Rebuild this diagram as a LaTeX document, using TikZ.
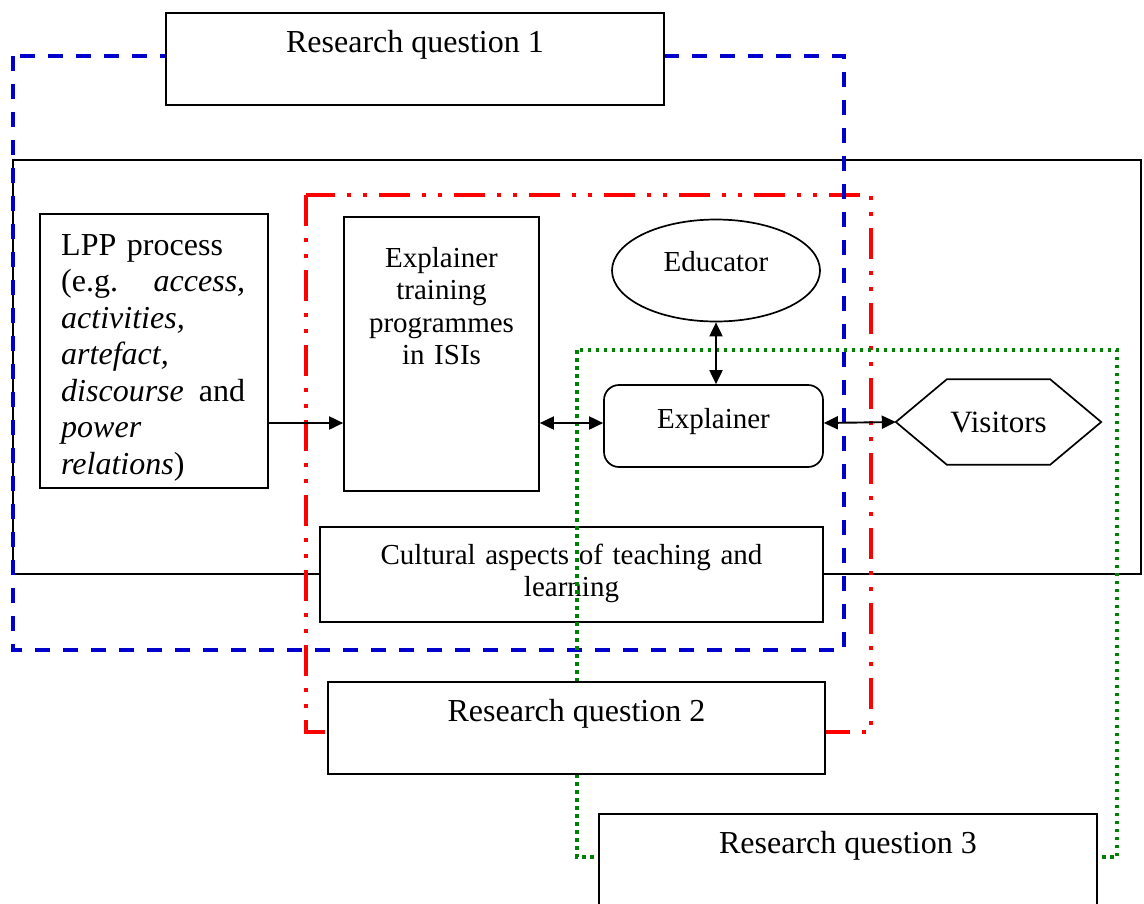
\documentclass[tikz,border=0pt]{standalone}
\usepackage{fontspec}
\setmainfont{Liberation Serif}
\usetikzlibrary{arrows.meta,calc,shapes.geometric}
\definecolor{rqblue}{RGB}{0,0,204}
\definecolor{rqred}{RGB}{255,0,0}
\definecolor{rqgreen}{RGB}{0,128,0}
\newcommand\rqsize{\fontsize{32}{36.8}\selectfont}
\newcommand\lppsize{\fontsize{32}{36.5}\selectfont}
\newcommand\midsize{\fontsize{29}{32.5}\selectfont}
\newcommand\vissize{\fontsize{31}{35}\selectfont}
\begin{document}
\begin{tikzpicture}[x=1pt,y=-1pt,
  box/.style={draw=black, line width=1.7pt, fill=white, inner sep=0pt},
  txt/.style={inner sep=0pt},
  outer/.style={draw=black, line width=1.4pt},
  bluefr/.style={draw=rqblue, line width=4pt, dash pattern=on 15pt off 13pt},
  redfr/.style={draw=rqred, line width=4pt,
    dash pattern=on 31pt off 12pt on 4pt off 12pt on 4pt off 12pt},
  greenfr/.style={draw=rqgreen, line width=3.5pt, dash pattern=on 3.5pt off 4.5pt},
  tip/.tip={Triangle[length=14pt,width=13pt]},
  link/.style={line width=1.9pt, tip-tip},
  feed/.style={line width=1.9pt, -tip},
]
\useasboundingbox (0,0) rectangle (1144,903);

% outer context frame
\draw[outer] (13,160) rectangle (1141,574);

% research question 2 and 1 regions
\draw[redfr] (306,195) rectangle (871,732);
\draw[bluefr] (13,56) rectangle (844,650);

% LPP process
\node[box, minimum width=228pt, minimum height=274pt] (lpp) at (154,351) {};
\node[txt, anchor=base west, text width=184pt, align=left, font=\lppsize] (lpptext) at (61,255)
  {LPP process\\
   (e.g.\hfill\textit{access,}\\
   \textit{activities,}\\
   \textit{artefact,}\\
   \textit{discourse}\hfill and\\
   \textit{power}\\
   \textit{relations})};

% training programmes
\node[box, minimum width=195pt, minimum height=274pt] (train) at (441.5,354) {};
\node[txt, anchor=base, text width=190pt, align=center, font=\midsize] (traintext) at (441.5,267)
  {Explainer\\training\\programmes\\in ISIs};

% educator
\node[box, ellipse, minimum width=208pt, minimum height=102pt] (edu) at (716,270.5) {};
\node[txt, anchor=base, font=\midsize] (edutext) at (716,271) {Educator};

% explainer
\node[box, rounded corners=15pt, minimum width=219pt, minimum height=82pt] (expl) at (713.5,426) {};
\node[txt, anchor=base, font=\midsize] (expltext) at (713.5,428) {Explainer};

% visitors (hexagon)
\node[inner sep=0pt, minimum width=205pt, minimum height=85pt, font=\vissize] (vis) at (998.5,422) {Visitors};
\draw[line width=1.7pt, line join=miter]
  (vis.west) -- ([xshift=51pt]vis.north west) -- ([xshift=-51pt]vis.north east)
  -- (vis.east) -- ([xshift=-51pt]vis.south east) -- ([xshift=51pt]vis.south west) -- cycle;

% cultural aspects
\node[box, minimum width=503pt, minimum height=95pt] (cult) at (571.5,574.5) {};
\node[txt, anchor=base, text width=480pt, align=center, font=\midsize] (culttext) at (571.5,564)
  {Cultural aspects of teaching and\\learning};

% research question 3 region
\draw[greenfr] (577,350) rectangle (1117,857);

% research questions
\node[box, minimum width=498pt, minimum height=92pt] (rq1) at (415,59) {};
\node[txt, anchor=base, font=\rqsize] (rq1text) at ($(rq1.north)+(0,40)$) {Research question 1};
\node[box, minimum width=497pt, minimum height=92pt] (rq2) at (576.5,728) {};
\node[txt, anchor=base, font=\rqsize] (rq2text) at ($(rq2.north)+(0,40)$) {Research question 2};
\node[box, minimum width=498pt, minimum height=92pt] (rq3) at (848,860) {};
\node[txt, anchor=base, font=\rqsize] (rq3text) at ($(rq3.north)+(0,40)$) {Research question 3};

% connectors
\coordinate (row) at (0,423);
\draw[feed] (lpp.east |- row) -- (train.west |- row);
\draw[link] (train.east |- row) -- (expl.west |- row);
\draw[link] (expl.east |- row) -- (vis.west);
\draw[link] (edu.south) -- (edu.south |- expl.north);
\end{tikzpicture}
\end{document}
